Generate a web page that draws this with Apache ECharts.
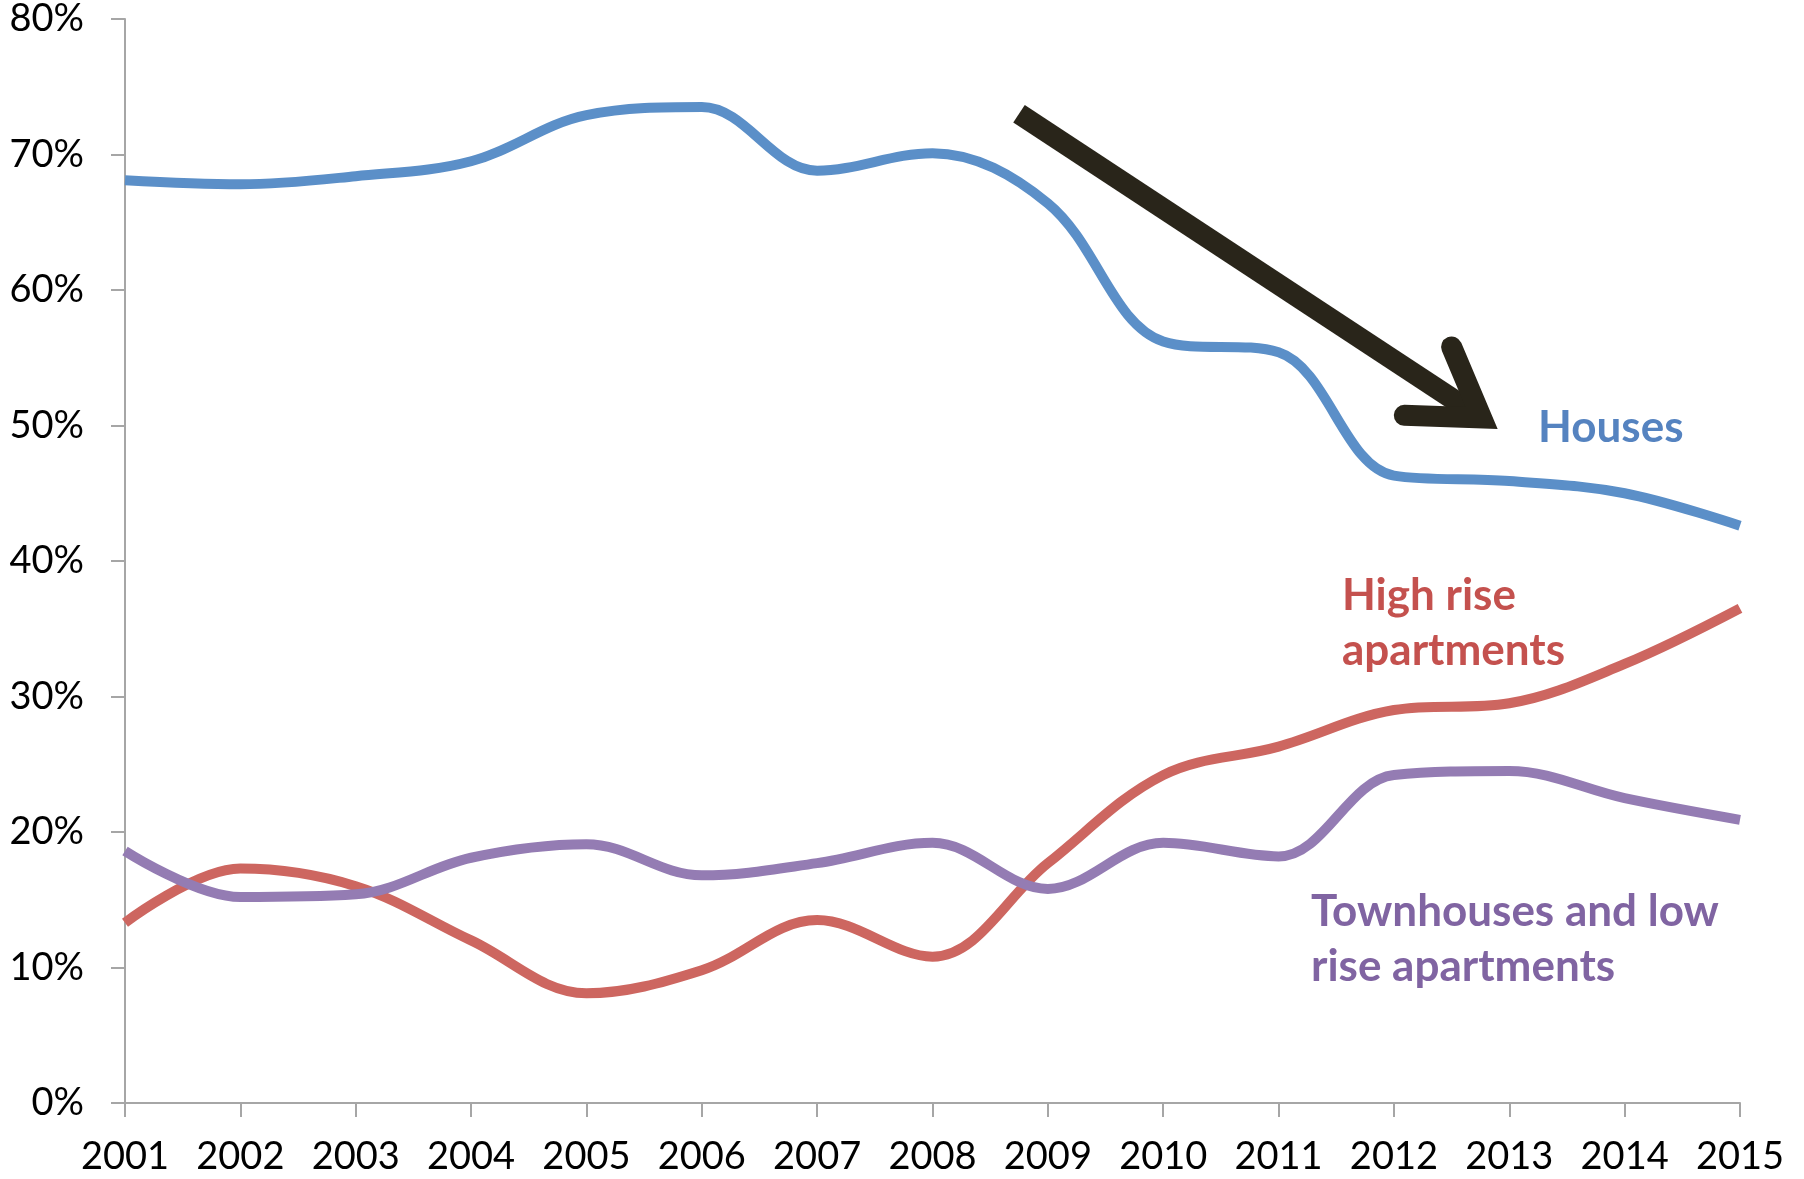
<!DOCTYPE html>
<html>
<head>
<meta charset="utf-8">
<script src="https://cdn.jsdelivr.net/npm/echarts@6/dist/echarts.min.js"></script>
<style>
html,body{margin:0;padding:0;background:#fff;}
#chart{width:1804px;height:1179px;}
</style>
</head>
<body>
<div id="chart"></div>
<script>
// ---- data ----
const years = [2001,2002,2003,2004,2005,2006,2007,2008,2009,2010,2011,2012,2013,2014,2015];
const houses = [68.1,67.8,68.4,69.5,72.9,73.5,68.8,70.1,66.4,56.2,55.4,46.3,45.9,45.0,42.6];
const highRise = [13.3,17.3,16.0,12.0,8.1,9.8,13.5,10.8,17.7,24.2,26.3,29.0,29.5,32.4,36.5];
const townhouses = [18.6,15.2,15.4,18.1,19.1,16.8,17.7,19.2,15.8,19.2,18.2,24.2,24.5,22.5,20.9];
const yTicks = [0,10,20,30,40,50,60,70,80];

// annotation anchors (data space)
const arrowFrom = [2008.75, 73.0];
const arrowTip = [2012.76, 50.55];
const arrowBarbA = [2012.50, 55.8];
const arrowBarbB = [2012.09, 50.75];

const pair = arr => years.map((y,i)=>[y, arr[i]]);

const chart = echarts.init(document.getElementById('chart'));
const axisGrey = '#a6a6a6';
const font = 'Lato';
const SMOOTH = 0.36;

chart.setOption({
  animation:false,
  backgroundColor:'#ffffff',
  grid:{left:125,right:64,top:19,bottom:76},
  xAxis:{
    type:'value', min:2001, max:2015, interval:1,
    axisLine:{show:true,lineStyle:{color:axisGrey,width:2}},
    axisTick:{show:true,length:14,lineStyle:{color:axisGrey,width:2}},
    splitLine:{show:false},
    axisLabel:{color:'#000',fontFamily:font,fontSize:38,margin:35,formatter:v=>String(v)}
  },
  yAxis:{
    type:'value', min:yTicks[0], max:yTicks[yTicks.length-1], interval:10,
    axisLine:{show:true,lineStyle:{color:axisGrey,width:2}},
    axisTick:{show:true,length:14,lineStyle:{color:axisGrey,width:2}},
    splitLine:{show:false},
    axisLabel:{color:'#000',fontFamily:font,fontSize:38,margin:41,formatter:v=>v+'%'}
  },
  series:[
    {name:'Houses',type:'line',data:pair(houses),smooth:SMOOTH,showSymbol:false,
     lineStyle:{color:'#5b8fc8',width:10},itemStyle:{color:'#5b8fc8'}},
    {name:'High rise apartments',type:'line',data:pair(highRise),smooth:SMOOTH,showSymbol:false,
     lineStyle:{color:'#cd6660',width:10},itemStyle:{color:'#cd6660'}},
    {name:'Townhouses and low rise apartments',type:'line',data:pair(townhouses),smooth:SMOOTH,showSymbol:false,
     lineStyle:{color:'#947cb3',width:10},itemStyle:{color:'#947cb3'}}
  ]
});

const px = p => chart.convertToPixel({xAxisIndex:0,yAxisIndex:0}, p);
const arrowColor = '#29251a';
chart.setOption({
  graphic:[
    {type:'polyline',shape:{points:[px(arrowFrom),px(arrowTip)]},
     style:{stroke:arrowColor,lineWidth:21,lineCap:'butt',fill:null},z:10},
    {type:'polyline',shape:{points:[px(arrowBarbA),px(arrowTip),px(arrowBarbB)]},
     style:{stroke:arrowColor,lineWidth:21,lineCap:'round',lineJoin:'miter',miterLimit:10,fill:null},z:10},
    {type:'text',left:1538,top:406,z:10,
     style:{text:'Houses',fill:'#5583c0',font:'bold 44px Lato'}},
    {type:'text',left:1342,top:568,z:10,
     style:{text:'High rise\napartments',fill:'#c4514e',font:'bold 44px Lato',lineHeight:55}},
    {type:'text',left:1311,top:884,z:10,
     style:{text:'Townhouses and low\nrise apartments',fill:'#8064a2',font:'bold 44px Lato',lineHeight:55}}
  ]
});
</script>
</body>
</html>
